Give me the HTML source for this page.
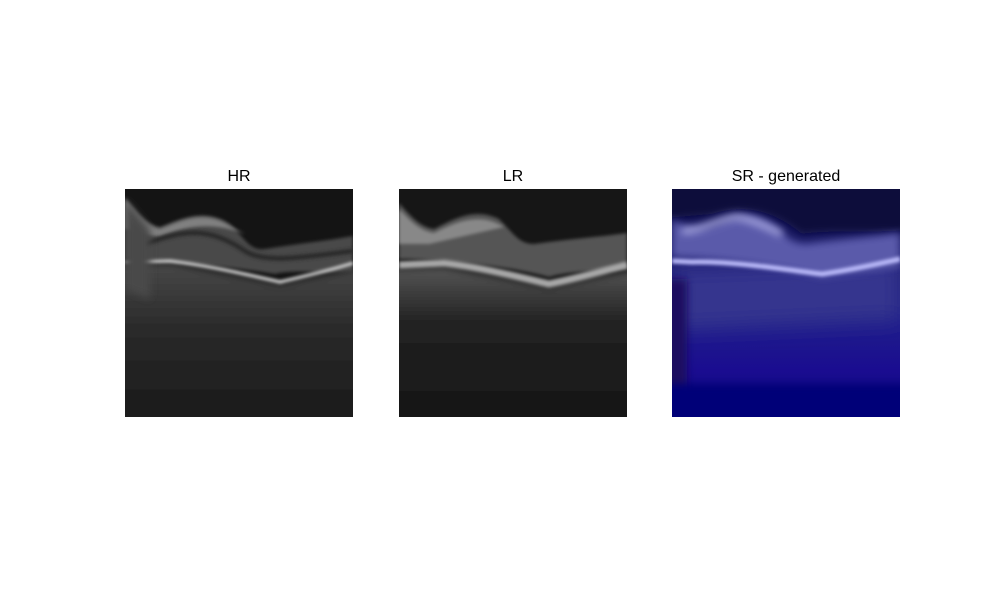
<!DOCTYPE html>
<html><head><meta charset="utf-8"><style>
body{margin:0;background:#fff;width:1000px;height:600px;overflow:hidden;font-family:"Liberation Sans",sans-serif}
</style></head><body>
<svg width="1000" height="600" xmlns="http://www.w3.org/2000/svg">
<defs>
<filter id="b1" filterUnits="userSpaceOnUse" x="-60" y="-60" width="350" height="350"><feGaussianBlur stdDeviation="1.5"/></filter>
<filter id="b3" filterUnits="userSpaceOnUse" x="-60" y="-60" width="350" height="350"><feGaussianBlur stdDeviation="4"/></filter>
<filter id="b6" filterUnits="userSpaceOnUse" x="-60" y="-60" width="350" height="350"><feGaussianBlur stdDeviation="10"/></filter>
<linearGradient id="hrHaze" x1="0" y1="0" x2="0" y2="1"><stop offset="0" stop-color="#484848"/><stop offset="0.35" stop-color="#2a2a2a"/><stop offset="1" stop-color="#151515"/></linearGradient>
<linearGradient id="lrHaze" x1="0" y1="0" x2="0" y2="1"><stop offset="0" stop-color="#555"/><stop offset="0.3" stop-color="#222"/><stop offset="1" stop-color="#121212"/></linearGradient>
<linearGradient id="srBg" x1="0" y1="0" x2="0" y2="1"><stop offset="0" stop-color="#101048"/><stop offset="0.3" stop-color="#202070"/><stop offset="0.55" stop-color="#20208a"/><stop offset="0.8" stop-color="#1a0c90"/><stop offset="1" stop-color="#08087a"/></linearGradient>
<clipPath id="c"><rect x="0" y="0" width="228" height="228"/></clipPath>
</defs>

<!-- HR -->
<text x="239" y="181" font-size="16" text-anchor="middle">HR</text>
<g transform="translate(125,189)" clip-path="url(#c)">
<rect width="228" height="228" fill="#141414"/>
<path d="M-20,75 L45,74 L155,95 L250,76 L250,260 L-20,260Z" fill="url(#hrHaze)" filter="url(#b3)"/>
<path d="M0,8 C10,20 20,35 35,38 C55,30 80,18 105,35 C120,50 125,62 140,60 C170,55 200,52 228,47 L228,82 C200,85 170,80 150,85 C120,80 60,72 0,70Z" fill="#4a4a4a" filter="url(#b1)"/>
<path d="M0,10 C10,22 20,37 35,40 C55,32 80,20 105,37 L120,45 C80,30 55,40 35,48 C20,46 10,40 0,40Z" fill="#808080" filter="url(#b1)"/>
<path d="M20,55 C60,40 85,38 120,62 C140,75 180,68 228,62" stroke="#2a2a2a" stroke-width="5" fill="none" filter="url(#b1)"/>
<path d="M0,73 L45,72 C80,76 120,85 155,93 C185,86 210,80 228,74" stroke="#ddd" stroke-width="3" fill="none" filter="url(#b1)"/>
<path d="M0,10 L0,100 L25,110 L25,40Z" fill="#4a4a4a" filter="url(#b3)"/>
</g>

<!-- LR -->
<text x="513" y="181" font-size="16" text-anchor="middle">LR</text>
<g transform="translate(399,189)" clip-path="url(#c)">
<rect width="228" height="228" fill="#161616"/>
<path d="M-20,80 L45,78 L150,98 L250,78 L250,260 L-20,260Z" fill="url(#lrHaze)" filter="url(#b3)"/>
<path d="M0,14 C10,25 20,38 35,40 C55,30 75,18 100,30 C115,45 120,55 135,55 C170,50 200,48 228,44 L228,80 C200,82 170,82 150,88 C120,80 60,70 0,70Z" fill="#555" filter="url(#b1)"/>
<path d="M0,20 C10,30 20,42 35,44 C55,34 80,22 105,38 L30,55 L0,55Z" fill="#888" filter="url(#b1)"/>
<path d="M0,76 L45,74 C80,78 120,88 150,95 C185,88 210,80 228,76" stroke="#a8a8a8" stroke-width="7" fill="none" filter="url(#b1)"/>
</g>

<!-- SR -->
<text x="786" y="181" font-size="16" text-anchor="middle">SR - generated</text>
<g transform="translate(672,189)" clip-path="url(#c)">
<rect width="228" height="228" fill="url(#srBg)"/>
<path d="M-20,-20 L250,-20 L250,40 C200,45 160,40 130,45 C100,20 70,15 40,25 L-20,30Z" fill="#0c0c3a" filter="url(#b3)"/>
<path d="M0,80 L228,72 L228,130 L0,140Z" fill="#36368e" filter="url(#b6)"/>
<path d="M0,30 C10,38 30,42 45,35 C65,25 80,22 100,35 C115,48 120,55 135,55 C170,50 200,48 228,44 L228,78 C200,82 170,85 150,88 C120,80 60,70 0,68Z" fill="#5a5aaa" filter="url(#b3)"/>
<path d="M10,42 C30,42 45,30 65,28 C80,30 100,40 110,45" stroke="#a8a8e0" stroke-width="6" fill="none" filter="url(#b3)"/>
<path d="M0,72 L20,73 C60,72 110,80 150,85 C185,80 210,74 228,70" stroke="#b8b8f8" stroke-width="5" fill="none" filter="url(#b1)"/>
<path d="M-10,90 L15,90 L15,228 L-10,228Z" fill="#1a1060" filter="url(#b3)"/>
<rect x="-20" y="195" width="270" height="60" fill="#050578" filter="url(#b3)"/>
</g>
</svg>
</body></html>
